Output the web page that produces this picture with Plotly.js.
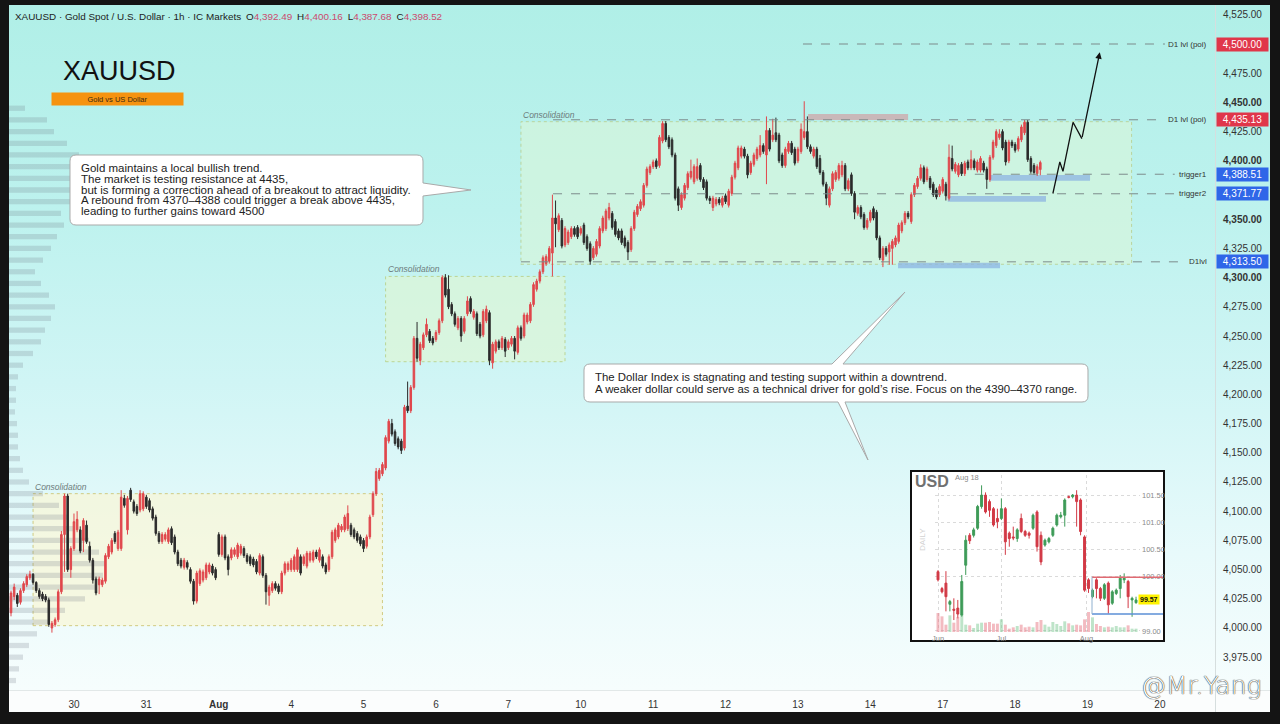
<!DOCTYPE html>
<html>
<head>
<meta charset="utf-8">
<script src="https://cdn.plot.ly/plotly-3.0.1.min.js"></script>
<style>
html,body{margin:0;padding:0;background:#141414;width:1280px;height:724px;overflow:hidden;}
#bg{position:absolute;left:9px;top:5px;width:1261px;height:685px;
 background:linear-gradient(180deg,#b0efe7 0%,#bdf2ee 30%,#d0f5f5 55%,#e8fafb 80%,#f6fdfd 100%);}
#bgx{position:absolute;left:9px;top:690px;width:1261px;height:22px;background:#fbfdfd;border-top:1px solid #e2e8e8;box-sizing:border-box;}
#sep{position:absolute;left:1215px;top:5px;width:1px;height:707px;background:#d6dede;}
#chart{position:absolute;left:0;top:0;width:1280px;height:724px;}
</style>
</head>
<body>
<div id="bg"></div><div id="bgx"></div><div id="sep"></div>
<div id="chart"></div>
<script>
// ---------------- DATA ----------------
const dayLabels = ['30','31','Aug','4','5','6','7','10','11','12','13','14','17','18','19','20'];
const dayStart  = [20,43,66,89,112,135,158,181,204,227,250,273,296,319,342,365];

const open = [
4013,4027,4028,4022,4032,4037,4043,4046,4039,4032,
4029,4027,4024,4000,4003,4007,4031,4080,4113,4050,
4068,4084,4084,4075,4088,4070,4058,4042,4037,4037,
4040,4061,4065,4081,4068,4068,4111,4084,4118,4108,
4104,4101,4102,4112,4109,4102,4095,4081,4074,4076,
4074,4085,4078,4065,4058,4052,4056,4050,4040,4023,
4038,4041,4043,4048,4053,4050,4080,4063,4078,4061,
4060,4063,4061,4064,4068,4062,4061,4059,4057,4047,
4061,4045,4028,4032,4038,4036,4031,4047,4050,4050,
4050,4050,4061,4055,4053,4058,4058,4065,4058,4061,
4054,4050,4061,4075,4078,4084,4084,4085,4088,4084,
4081,4078,4075,4070,4078,4097,4115,4128,4132,4137,
4160,4175,4168,4162,4160,4154,4190,4186,4206,4248,
4229,4240,4251,4254,4248,4247,4253,4263,4300,4290,
4277,4269,4257,4265,4254,4269,4282,4266,4269,4260,
4251,4263,4270,4227,4237,4245,4240,4247,4240,4243,
4248,4236,4257,4250,4262,4263,4277,4290,4297,4305,
4312,4314,4321,4351,4341,4349,4328,4330,4335,4342,
4343,4338,4345,4335,4329,4317,4320,4327,4340,4342,
4351,4355,4348,4340,4340,4334,4330,4324,4342,4354,
4359,4362,4379,4390,4395,4400,4396,4417,4432,4420,
4418,4405,4376,4360,4368,4377,4386,4382,4385,4396,
4384,4382,4368,4360,4363,4367,4362,4370,4362,4372,
4386,4394,4404,4410,4404,4390,4397,4402,4405,4413,
4405,4426,4418,4424,4422,4405,4396,4408,4415,4410,
4400,4408,4420,4425,4412,4404,4410,4402,4390,4380,
4362,4376,4384,4385,4388,4396,4376,4388,4372,4355,
4360,4354,4343,4349,4359,4356,4334,4315,4325,4322,
4325,4328,4331,4340,4347,4355,4348,4371,4378,4385,
4394,4384,4385,4380,4375,4371,4374,4380,4368,4402,
4391,4388,4397,4389,4399,4394,4400,4392,4392,4398,
4393,4384,4403,4413,4420,4425,4416,4400,4416,4414,
4410,4418,4424,4433,4402,4396,4389,4392.49];

const high = [
4032,4038,4030,4034,4040,4046,4049,4047,4040,4034,
4031,4029,4026,4006,4009,4033,4083,4115,4115,4070,
4098,4100,4087,4094,4092,4074,4060,4044,4044,4043,
4064,4072,4077,4083,4084,4118,4114,4113,4120,4110,
4106,4118,4117,4114,4111,4104,4097,4083,4082,4082,
4086,4087,4080,4067,4060,4060,4058,4052,4042,4049,
4051,4050,4056,4056,4055,4052,4082,4080,4080,4063,
4069,4069,4073,4072,4070,4064,4063,4061,4059,4064,
4063,4047,4037,4040,4040,4038,4049,4057,4057,4060,
4063,4069,4063,4063,4066,4066,4067,4067,4069,4063,
4056,4063,4084,4086,4090,4089,4097,4105,4090,4086,
4083,4080,4077,4080,4097,4117,4137,4137,4142,4165,
4179,4179,4170,4164,4162,4191,4211,4208,4250,4262,
4245,4253,4265,4256,4250,4255,4265,4302,4303,4302,
4279,4271,4267,4267,4267,4284,4284,4273,4271,4262,
4273,4276,4272,4245,4247,4247,4250,4249,4247,4250,
4250,4259,4259,4270,4270,4279,4296,4299,4307,4319,
4320,4327,4371,4366,4355,4351,4344,4341,4344,4344,
4345,4344,4347,4337,4331,4327,4333,4344,4353,4359,
4364,4357,4350,4342,4342,4336,4332,4344,4358,4363,
4367,4381,4395,4397,4401,4402,4422,4434,4434,4422,
4420,4407,4378,4373,4381,4391,4401,4397,4402,4398,
4386,4384,4370,4370,4369,4369,4370,4372,4376,4388,
4400,4413,4413,4412,4406,4400,4407,4412,4422,4415,
4438,4428,4436,4437,4424,4407,4412,4417,4417,4412,
4412,4432,4451,4438,4414,4412,4412,4405,4392,4382,
4378,4391,4392,4398,4400,4398,4385,4390,4374,4362,
4362,4356,4351,4358,4361,4358,4336,4327,4327,4330,
4333,4336,4347,4349,4357,4357,4373,4381,4387,4397,
4396,4395,4387,4382,4377,4380,4386,4382,4414,4413,
4399,4398,4399,4400,4401,4409,4402,4401,4404,4400,
4395,4405,4418,4427,4427,4427,4418,4418,4418,4416,
4421,4431,4435,4435,4404,4398,4397,4400.16];

const low = [
4010,4024,4018,4020,4030,4035,4041,4037,4030,4025,
4023,4022,4001,3996,4001,4005,4029,4048,4048,4043,
4066,4082,4064,4065,4072,4056,4038,4028,4029,4035,
4038,4059,4063,4072,4066,4066,4103,4080,4108,4098,
4096,4099,4100,4102,4099,4092,4079,4072,4072,4074,
4072,4071,4063,4053,4051,4050,4050,4038,4020,4021,
4036,4039,4041,4046,4045,4041,4061,4061,4058,4045,
4058,4061,4059,4062,4060,4055,4053,4052,4046,4045,
4043,4020,4019,4030,4032,4029,4029,4045,4048,4048,
4048,4048,4045,4053,4051,4056,4056,4059,4056,4051,
4046,4048,4059,4073,4076,4082,4082,4083,4078,4076,
4073,4070,4065,4068,4076,4095,4113,4126,4130,4135,
4158,4164,4156,4153,4149,4152,4184,4184,4204,4228,
4225,4238,4249,4244,4242,4245,4251,4261,4283,4273,
4267,4258,4255,4245,4252,4267,4269,4264,4250,4248,
4249,4261,4225,4222,4235,4238,4238,4232,4238,4241,
4230,4234,4246,4248,4260,4261,4275,4288,4295,4303,
4310,4312,4301,4326,4339,4325,4326,4328,4333,4335,
4333,4336,4328,4323,4311,4315,4318,4325,4338,4340,
4349,4341,4335,4332,4328,4325,4315,4322,4340,4352,
4357,4360,4377,4388,4393,4393,4394,4415,4416,4410,
4403,4366,4357,4358,4366,4375,4384,4380,4383,4382,
4375,4366,4363,4357,4361,4362,4360,4363,4360,4370,
4384,4392,4402,4402,4385,4388,4395,4400,4403,4406,
4380,4408,4416,4416,4398,4394,4394,4406,4405,4396,
4398,4406,4418,4410,4406,4402,4393,4388,4378,4362,
4360,4374,4382,4383,4386,4374,4374,4370,4350,4353,
4350,4341,4341,4347,4349,4332,4315,4309,4318,4311,
4311,4326,4329,4338,4345,4350,4346,4369,4376,4383,
4380,4382,4375,4369,4367,4369,4372,4366,4366,4391,
4389,4386,4387,4387,4392,4392,4392,4390,4390,4390,
4376,4382,4401,4411,4418,4409,4396,4398,4411,4407,
4408,4416,4422,4399,4389,4388,4387,4387.68];

const close = [
4030,4035,4021,4032,4038,4044,4046,4039,4032,4027,
4025,4024,4003,4004,4007,4031,4080,4113,4050,4068,
4091,4093,4066,4092,4074,4058,4041,4030,4042,4041,
4062,4070,4075,4074,4082,4112,4105,4111,4110,4100,
4098,4115,4115,4104,4101,4094,4081,4074,4080,4080,
4084,4073,4065,4055,4053,4058,4052,4040,4023,4047,
4049,4048,4054,4054,4047,4043,4063,4078,4060,4050,
4067,4067,4071,4070,4062,4057,4055,4054,4048,4062,
4045,4031,4035,4038,4034,4031,4047,4055,4055,4058,
4061,4067,4047,4061,4064,4064,4065,4061,4067,4053,
4048,4061,4082,4084,4088,4087,4095,4098,4080,4078,
4075,4072,4068,4078,4095,4115,4134,4135,4140,4163,
4177,4166,4158,4155,4152,4189,4186,4206,4248,4231,
4243,4251,4260,4246,4244,4253,4263,4300,4285,4275,
4269,4260,4265,4250,4265,4280,4271,4271,4252,4250,
4271,4273,4229,4243,4245,4240,4248,4237,4245,4248,
4237,4257,4248,4268,4268,4277,4294,4297,4305,4317,
4318,4325,4351,4346,4353,4327,4342,4339,4342,4337,
4335,4342,4330,4325,4314,4325,4331,4342,4351,4357,
4360,4343,4337,4334,4330,4327,4322,4342,4356,4361,
4365,4379,4393,4395,4399,4395,4420,4432,4418,4412,
4405,4368,4362,4371,4379,4389,4391,4395,4395,4384,
4377,4368,4366,4368,4367,4364,4368,4365,4374,4386,
4398,4411,4411,4404,4388,4398,4405,4410,4413,4408,
4426,4410,4422,4418,4400,4396,4410,4415,4407,4398,
4410,4427,4425,4412,4408,4410,4395,4390,4380,4368,
4376,4389,4390,4396,4396,4376,4383,4372,4356,4360,
4352,4343,4349,4356,4351,4334,4317,4325,4320,4328,
4331,4334,4345,4347,4355,4352,4371,4379,4385,4394,
4382,4393,4377,4371,4369,4378,4384,4370,4403,4393,
4397,4396,4389,4398,4394,4401,4394,4399,4402,4392,
4384,4403,4416,4425,4423,4411,4399,4416,4413,4409,
4419,4429,4433,4401,4391,4390,4395,4398.52];

// Left-side volume profile (price bin centre, relative length)
const profilePrice = [4445,4435,4425,4415,4405,4395,4385,4375,4365,4355,4345,4335,4325,4315,4305,4295,4285,4275,4265,4255,4245,4235,4225,4215,4205,4195,4185,4175,4165,4155,4145,4135,4125,4115,4105,4095,4085,4075,4065,4055,4045,4035,4025,4015,4005,3995,3985,3975,3965,3955];
const profileVol   = [16,38,45,58,70,82,88,72,62,52,55,48,42,34,26,32,40,46,42,36,32,24,14,9,7,7,6,8,9,9,11,14,20,34,50,58,66,80,90,96,94,86,76,56,40,28,20,14,10,7];

// Key levels
const levelNames  = ['D1 lvl (poi)','D1 lvl (poi)','trigger1','trigger2','D1lvl'];
const levelPrices = [4500.00, 4435.13, 4388.51, 4371.77, 4313.50];

// Inset: US Dollar Index, daily
const usdLabels = ['Jun','Jul','Aug'];
const usdOpen  = [100.09,99.78,99.88,99.49,99.40,99.42,99.29,100.21,100.76,100.76,100.89,101.29,101.50,101.38,101.25,101.07,101.07,101.25,100.80,100.73,100.70,101.07,100.83,100.80,100.89,101.19,100.76,100.58,100.64,100.76,100.95,101.10,101.13,101.47,101.47,101.50,101.41,100.73,99.94,99.63,99.94,99.78,99.60,99.88,99.51,99.69,99.78,99.94,99.91,99.57,99.52];
const usdHigh  = [100.12,99.81,100.10,99.57,99.60,99.57,100.03,100.76,100.80,100.90,101.32,101.68,101.55,101.42,101.28,101.25,101.44,101.28,100.83,100.92,100.89,101.16,100.86,100.83,101.16,101.22,100.83,100.70,100.73,100.92,101.16,101.19,101.44,101.49,101.52,101.59,101.44,100.76,99.97,99.78,99.97,99.81,99.88,99.91,99.75,99.78,100.03,100.06,99.94,99.63,99.63];
const usdLow   = [99.91,99.69,99.36,99.36,99.20,99.23,99.26,100.03,100.60,100.72,100.86,101.25,101.16,101.10,100.92,100.89,101.04,100.40,100.55,100.67,100.64,100.80,100.73,100.70,100.86,100.46,100.21,100.55,100.61,100.73,100.92,101.07,100.92,101.44,101.44,100.92,100.76,99.72,99.70,99.60,99.60,99.55,99.57,99.32,99.48,99.66,99.60,99.88,99.42,99.26,99.50];
const usdClose = [99.94,99.72,99.63,99.54,99.38,99.31,99.91,100.67,100.66,100.86,101.29,101.50,101.19,101.22,100.95,101.01,101.25,100.64,100.70,100.71,100.86,100.83,100.76,100.76,101.13,100.55,100.27,100.67,100.70,100.89,101.13,101.13,101.41,101.46,101.50,101.38,100.83,99.75,99.78,99.75,99.78,99.60,99.85,99.48,99.72,99.75,99.97,99.97,99.63,99.60,99.57];
const usdVol   = [57,47,22,50,28,45,50,22,20,12,25,28,28,30,25,25,38,22,10,14,18,22,14,16,14,30,36,22,16,30,24,18,32,26,20,22,20,38,60,44,24,18,14,16,14,18,14,14,20,10,10];

// ---------------- LAYOUT HELPERS ----------------
const ML=9, MR=65, MT=5, MB=34, PW=1280-ML-MR, PH=724-MT-MB;
const px = x => (x-ML)/PW;
const py = y => (724-MB-y)/PH;
const P  = (x,y) => px(x).toFixed(5)+','+py(y).toFixed(5);
const FONT = 'Liberation Sans, Arial, Helvetica, sans-serif';
const STEP = 3.148;           // pixels per hourly bar
const xMin = -0.64, xMax = 382.5;

const idx = open.map((_,i)=>i);
const usdIdx = usdOpen.map((_,i)=>i);

const traces = [
 { type:'bar', orientation:'h', y:profilePrice, x:profileVol.map(v=>v/STEP), base:xMin,
   width:4.5, marker:{color:'rgba(110,120,130,0.22)', line:{width:0}}, hoverinfo:'skip', xaxis:'x', yaxis:'y'},
 { type:'candlestick', x:idx, open:open, high:high, low:low, close:close, xaxis:'x', yaxis:'y',
   increasing:{line:{color:'#e0474c', width:1}, fillcolor:'#e0474c'},
   decreasing:{line:{color:'#2b2b2b', width:1}, fillcolor:'#2b2b2b'},
   whiskerwidth:0, hoverinfo:'skip'},
 { type:'scatter', mode:'lines', x:[331.0,333.2,334.2,337.4,340.2], y:[4372,4399,4391,4433,4419],
   line:{color:'#111', width:1.3}, hoverinfo:'skip', xaxis:'x', yaxis:'y'},
 { type:'candlestick', x:usdIdx, open:usdOpen, high:usdHigh, low:usdLow, close:usdClose, xaxis:'x2', yaxis:'y2',
   increasing:{line:{color:'#3e9b58', width:1}, fillcolor:'#3e9b58'},
   decreasing:{line:{color:'#d23a46', width:1}, fillcolor:'#d23a46'},
   whiskerwidth:0, hoverinfo:'skip'},
 { type:'bar', x:usdIdx, y:usdVol, xaxis:'x2', yaxis:'y3', width:0.75,
   marker:{color:usdClose.map((c,i)=> c>=usdOpen[i] ? 'rgba(110,195,135,0.45)' : 'rgba(232,120,132,0.5)'), line:{width:0}},
   hoverinfo:'skip'}
];

// y tick labels (4,375.00 sits behind the trigger2 price tag, as in the original)
const yVals=[]; for(let v=3975; v<=4525; v+=25) if(v!==4375) yVals.push(v);
const boldSet=[4300,4350,4400,4450];
const yText=yVals.map(v=>{const s=v.toLocaleString('en-US',{minimumFractionDigits:2,maximumFractionDigits:2});return boldSet.includes(v)?'<b>'+s+'</b>':s;});

const shapes = [];
// consolidation zones
const zones = [
 {x0:7,  x1:118, y0:4002,   y1:4115,   fill:'rgba(250,246,214,0.70)', line:'rgba(205,198,120,0.9)'},
 {x0:119,x1:176, y0:4228,   y1:4301,   fill:'rgba(222,246,212,0.65)', line:'rgba(185,210,140,0.9)'},
 {x0:162,x1:356, y0:4311.4, y1:4433.5, fill:'rgba(216,246,218,0.62)', line:'rgba(185,210,150,0.9)'}
];
zones.forEach(z=>shapes.push({type:'rect',xref:'x',yref:'y',x0:z.x0,x1:z.x1,y0:z.y0,y1:z.y1,fillcolor:z.fill,line:{color:z.line,width:1,dash:'dot'},layer:'below'}));
// highlight bars
shapes.push({type:'rect',xref:'x',yref:'y',x0:253.2,x1:285,y0:4435,y1:4440,fillcolor:'rgba(205,170,172,0.8)',line:{width:0},layer:'below'});
shapes.push({type:'rect',xref:'x',yref:'y',x0:311,x1:342.8,y0:4382.9,y1:4387.8,fillcolor:'rgba(140,180,226,0.75)',line:{width:0},layer:'below'});
shapes.push({type:'rect',xref:'x',yref:'y',x0:297.6,x1:328.8,y0:4365,y1:4369.9,fillcolor:'rgba(140,180,226,0.75)',line:{width:0},layer:'below'});
shapes.push({type:'rect',xref:'x',yref:'y',x0:281.8,x1:314.2,y0:4308,y1:4312.8,fillcolor:'rgba(140,180,226,0.75)',line:{width:0},layer:'below'});
// level lines
const levelX0=[251.6,172.2,306.2,172.2,162];
const levelX1=[366.6,366.6,369.7,369.7,372.3];
levelPrices.forEach((p,k)=>shapes.push({type:'line',xref:'x',yref:'y',x0:levelX0[k],x1:levelX1[k],y0:p,y1:p,line:{color:'#7d8b8b',width:1,dash:'dash'}}));
// callout 1
shapes.push({type:'path',xref:'paper',yref:'paper',layer:'above',fillcolor:'#ffffff',line:{color:'#a9a9a9',width:1},
 path:`M ${P(76,155)} L ${P(417,155)} Q ${P(423,155)} ${P(423,161)} L ${P(423,183)} L ${P(471,190)} L ${P(423,196)} L ${P(423,219)} Q ${P(423,225)} ${P(417,225)} L ${P(76,225)} Q ${P(70,225)} ${P(70,219)} L ${P(70,161)} Q ${P(70,155)} ${P(76,155)} Z`});
// callout 2
shapes.push({type:'path',xref:'paper',yref:'paper',layer:'above',fillcolor:'#ffffff',line:{color:'#a9a9a9',width:1},
 path:`M ${P(590,364)} L ${P(832,364)} L ${P(905,292)} L ${P(843,364)} L ${P(1082,364)} Q ${P(1088,364)} ${P(1088,370)} L ${P(1088,396)} Q ${P(1088,402)} ${P(1082,402)} L ${P(845,402)} L ${P(868,460)} L ${P(838,402)} L ${P(590,402)} Q ${P(584,402)} ${P(584,396)} L ${P(584,370)} Q ${P(584,364)} ${P(590,364)} Z`});
// inset frame
shapes.push({type:'rect',xref:'paper',yref:'paper',x0:px(911),x1:px(1164),y0:py(641),y1:py(471),fillcolor:'#ffffff',line:{color:'#111',width:2},layer:'below'});
// inset levels
shapes.push({type:'line',xref:'paper',yref:'y2',x0:px(1092),x1:px(1163),y0:99.99,y1:99.99,line:{color:'#e06a72',width:1.5}});
shapes.push({type:'line',xref:'paper',yref:'y2',x0:px(1092),x1:px(1163),y0:99.31,y1:99.31,line:{color:'#5b8fd6',width:1.5}});
shapes.push({type:'line',xref:'paper',yref:'y2',x0:px(1092),x1:px(1092),y0:99.31,y1:99.99,line:{color:'#8fb0cf',width:1}});

const ann = [];
const A = o => ann.push(Object.assign({showarrow:false, font:{family:FONT,size:10,color:'#222'}},o));
// header
const pc = '#cc4a6e';
A({xref:'paper',yref:'paper',x:px(13),y:py(17),xanchor:'left',yanchor:'middle',font:{family:FONT,size:9.9,color:'#222'},
 text:`XAUUSD · Gold Spot / U.S. Dollar · 1h · IC Markets\u2002O<span style="color:${pc}">4,392.49</span>\u2002H<span style="color:${pc}">4,400.16</span>\u2002L<span style="color:${pc}">4,387.68</span>\u2002C<span style="color:${pc}">4,398.52</span>`});
A({xref:'paper',yref:'paper',x:px(61),y:py(71),xanchor:'left',yanchor:'middle',text:'XAUUSD',font:{family:FONT,size:27,color:'#111'}});
A({xref:'paper',yref:'paper',x:px(117.5),y:py(99),xanchor:'center',yanchor:'middle',text:'Gold vs US Dollar',
 font:{family:FONT,size:7.5,color:'#3a2a10'},bgcolor:'#f6930f',width:131,height:12,borderpad:0});
// callout texts
const c1 = ['Gold maintains a local bullish trend.','The market is testing resistance at 4435,','but is forming a correction ahead of a breakout to attract liquidity.','A rebound from 4370–4388 could trigger a break above 4435,','leading to further gains toward 4500'];
const c1y = [167.5,178.5,189.5,200.5,211.5];
c1.forEach((t,k)=>A({xref:'paper',yref:'paper',x:px(79),y:py(c1y[k]),xanchor:'left',yanchor:'middle',text:t,font:{family:FONT,size:11.5,color:'#222'}}));
const c2 = ['The Dollar Index is stagnating and testing support within a downtrend.','A weaker dollar could serve as a technical driver for gold\u2019s rise. Focus on the 4390–4370 range.'];
const c2y = [377.5,388.8];
c2.forEach((t,k)=>A({xref:'paper',yref:'paper',x:px(593),y:py(c2y[k]),xanchor:'left',yanchor:'middle',text:t,font:{family:FONT,size:11.4,color:'#222'}}));
// consolidation labels
zones.forEach(z=>A({xref:'x',yref:'y',x:z.x0,y:z.y1,xanchor:'left',yanchor:'bottom',yshift:0,text:'<i>Consolidation</i>',font:{family:FONT,size:8.5,color:'#6d7c7c'}}));
// level labels and price tags
const tagColors=['#e0364a','#e0364a','#2f66e8','#2f66e8','#2f66e8'];
levelPrices.forEach((p,k)=>{
  A({xref:'paper',yref:'y',x:px(1209),y:p,xanchor:'right',yanchor:'middle',text:levelNames[k],font:{family:FONT,size:8,color:'#333'}});
  A({xref:'paper',yref:'y',x:px(1216),y:p,xanchor:'left',yanchor:'middle',text:p.toLocaleString('en-US',{minimumFractionDigits:2}),
     font:{family:FONT,size:10,color:'#ffffff'},bgcolor:tagColors[k],width:51,height:13,borderpad:0});
});
// projection arrow head
ann.push({xref:'x',yref:'y',axref:'x',ayref:'y',x:345.9,y:4493,ax:340.2,ay:4419,showarrow:true,arrowhead:2,arrowsize:1,arrowwidth:1.3,arrowcolor:'#111',text:''});
// inset texts
A({xref:'paper',yref:'paper',x:px(913),y:py(481),xanchor:'left',yanchor:'middle',text:'<b>USD</b>',font:{family:FONT,size:16,color:'#707070'}});
A({xref:'paper',yref:'paper',x:px(953),y:py(477.5),xanchor:'left',yanchor:'middle',text:'Aug 18',font:{family:FONT,size:7.5,color:'#8a8a8a'}});
A({xref:'paper',yref:'paper',x:px(922),y:py(540),xanchor:'center',yanchor:'middle',text:'DAILY',textangle:-90,font:{family:FONT,size:8,color:'#d2d2d2'}});
A({xref:'paper',yref:'y2',x:px(1138),y:99.57,xanchor:'left',yanchor:'middle',text:'<b>99.57</b>',font:{family:FONT,size:7,color:'#111'},bgcolor:'#fff200',borderpad:1});
// watermark
A({xref:'paper',yref:'paper',x:px(1139),y:py(685),xanchor:'left',yanchor:'middle',text:'@Mr.Yang',
   font:{family:'DejaVu Sans ExtraLight, DejaVu Sans, sans-serif',size:25,color:'#ffffff',weight:200,shadow:'0 0 1px #222, 0 0 1px #222'}});

const layout = {
 width:1280, height:724, autosize:false,
 margin:{l:ML,r:MR,t:MT,b:MB,pad:0},
 paper_bgcolor:'rgba(0,0,0,0)', plot_bgcolor:'rgba(0,0,0,0)',
 showlegend:false, hovermode:false, dragmode:false,
 xaxis:{domain:[0,1],range:[xMin,xMax],rangeslider:{visible:false},showgrid:false,zeroline:false,showline:false,
   tickmode:'array',tickvals:dayStart,ticktext:dayLabels.map(d=>d==='Aug'?'<b>Aug</b>':d),ticks:'',ticklabelstandoff:7,
   tickfont:{family:FONT,size:10,color:'#333'},fixedrange:true},
 yaxis:{domain:[0,1],range:[3946.9,4533.4],side:'right',showgrid:false,zeroline:false,showline:false,
   tickmode:'array',tickvals:yVals,ticktext:yText,ticks:'',ticklabelstandoff:7,
   tickfont:{family:FONT,size:10,color:'#333'},fixedrange:true},
 xaxis2:{domain:[px(935),px(1140)],range:[-0.76,51.0],anchor:'y2',rangeslider:{visible:false},
   showgrid:true,gridcolor:'#dadada',griddash:'dot',gridwidth:1,zeroline:false,showline:false,
   tickmode:'array',tickvals:[0,16,37.5],ticktext:usdLabels,ticks:'',ticklabelstandoff:0,
   tickfont:{family:FONT,size:7.5,color:'#8a8a8a'},fixedrange:true},
 yaxis2:{domain:[py(632),py(475)],range:[98.98,101.87],anchor:'x2',side:'right',
   showgrid:true,gridcolor:'#dadada',griddash:'dot',gridwidth:1,zeroline:false,showline:false,
   tickmode:'array',tickvals:[99,100,100.5,101,101.5],tickformat:'.2f',ticks:'',ticklabelstandoff:1,
   tickfont:{family:FONT,size:7.5,color:'#8a8a8a'},fixedrange:true},
 yaxis3:{overlaying:'y2',anchor:'x2',range:[0,471],visible:false,fixedrange:true},
 shapes:shapes,
 annotations:ann
};

Plotly.newPlot('chart', traces, layout, {staticPlot:true, displayModeBar:false});
</script>
</body>
</html>
